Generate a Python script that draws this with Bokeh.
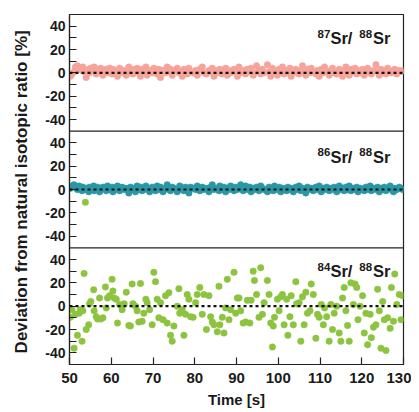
from bokeh.plotting import figure
from bokeh.models import Range1d, FixedTicker, Span, Label, ColumnDataSource
from bokeh.transform import dodge
from bokeh.embed import file_html
from bokeh.resources import INLINE

# measurement times [s]
time = [
    50.2, 50.6, 51.1, 51.4, 51.9, 52.3, 52.6, 53.0, 53.2, 53.5,
    54.0, 54.6, 54.8, 55.1, 55.8, 55.9, 56.4, 56.7, 57.2, 57.5,
    58.0, 58.6, 58.8, 59.1, 59.6, 60.2, 60.4, 60.7, 61.2, 61.5,
    62.0, 62.6, 63.1, 63.6, 64.2, 64.6, 65.0, 65.2, 65.8, 66.2,
    66.6, 67.0, 67.4, 67.8, 68.3, 68.6, 69.2, 69.8, 70.2, 70.6,
    71.0, 71.4, 71.8, 72.4, 73.0, 73.4, 73.8, 74.2, 74.6, 75.0,
    75.8, 76.2, 76.4, 77.0, 77.4, 77.8, 78.2, 78.6, 79.0, 79.6,
    80.2, 80.6, 81.2, 81.8, 82.2, 82.8, 83.4, 83.8, 84.2, 84.6,
    85.4, 85.8, 86.0, 86.6, 87.0, 87.4, 87.8, 88.2, 88.6, 89.4,
    89.8, 90.2, 90.6, 91.0, 91.6, 92.2, 92.6, 93.2, 93.5, 94.0,
    94.3, 94.8, 95.4, 95.8, 96.2, 96.6, 97.4, 97.8, 98.2, 98.6,
    98.8, 99.1, 99.8, 100.2, 100.6, 101.0, 101.4, 102.0, 102.3, 102.8,
    103.1, 103.6, 104.2, 104.4, 105.0, 105.4, 105.8, 106.2, 106.6, 107.0,
    107.6, 107.9, 108.4, 109.0, 109.4, 109.8, 110.3, 110.8, 111.1, 111.6,
    112.2, 112.6, 113.0, 113.4, 114.0, 114.6, 115.0, 115.4, 115.8, 116.2,
    116.6, 117.0, 117.4, 118.0, 118.4, 118.8, 119.1, 119.6, 120.2, 120.6,
    121.0, 121.4, 122.0, 122.3, 122.8, 123.4, 123.8, 124.2, 124.6, 125.0,
    125.4, 125.8, 126.2, 126.8, 127.1, 127.6, 127.9, 128.4, 129.0, 129.4,
    129.8,
]

# 87Sr/88Sr deviation [%]
sr87 = [
    -3, -1, 1, 5, 6, 3, 4, 2, 5, 1,
    -4, 3, 0, 4, 2, 5, -1, 3, 1, 4,
    -2, 2, 3, 0, 4, -1, 3, 1, 2, -3,
    4, 0, 2, -2, 5, 1, 3, -1, 2, 4,
    0, -3, 3, 1, 5, -2, 2, 0, 4, 1,
    -1, 3, -4, 2, 0, 5, 1, 3, -2, 2,
    4, 0, 1, -3, 3, 2, -1, 4, 1, 0,
    2, -2, 3, 5, 0, -1, 2, 1, 4, -3,
    2, 0, 3, -1, 1, 4, -2, 2, 0, 3,
    1, -3, 5, 0, 2, -1, 3, 1, 4, -2,
    0, 6, 2, -1, 3, 0, 7, 1, -3, 4,
    2, 0, -2, 3, 1, 5, -1, 2, 0, 4,
    -3, 1, 3, 0, -1, 2, 6, 1, -2, 3,
    0, 4, 1, -1, 2, -3, 3, 0, 5, 1,
    -2, 2, 4, 0, -1, 3, 1, -3, 2, 5,
    0, -2, 3, 1, 4, -1, 2, 0, 3, -2,
    1, 4, 0, -1, 2, 7, 1, -2, 3, 0,
    2, -1, 4, 1, 0, 2, 3, -1, 2, 1,
    2,
]

# 86Sr/88Sr deviation [%]
sr86 = [
    1, 3, 4, 2, 0, 3, 1, -1, 2, 0,
    1, -2, 2, 0, 3, -1, 1, 2, -2, 0,
    2, 1, -1, 3, 0, 2, -2, 1, 0, 3,
    -1, 2, 0, 1, -3, 2, 0, 1, -2, 3,
    0, 2, -1, 1, 3, 0, -2, 2, 1, -1,
    3, 0, 2, -2, 1, 4, 0, -1, 2, 1,
    -2, 0, 3, 1, -1, 2, 0, -3, 2, 1,
    0, 3, -1, 2, 0, 1, -2, 2, 4, 0,
    1, -1, 3, 0, 2, -2, 1, 0, 3, -1,
    2, 0, 1, 4, -1, 3, 0, 2, -2, 1,
    0, 2, -1, 3, 1, 0, -2, 2, 0, 1,
    -1, 3, 0, 2, -2, 1, 0, -1, 2, 0,
    1, -2, 2, 0, 3, -1, 1, 0, -3, 2,
    0, 1, -1, 2, 0, 3, -2, 1, 0, 2,
    -1, 1, 0, 2, -2, 3, 0, 1, -1, 2,
    0, 3, -1, 1, 0, 2, -2, 1, 0, -1,
    2, 0, 3, -1, 1, 0, 2, -2, 1, 0,
    2, -1, 1, 3, 0, -2, 1, 0, 2, 1,
    0,
]
# stray point in the 86Sr panel
stray_t = [53.8]
stray_y = [-11]

# 84Sr/88Sr deviation [%]
sr84 = [
    -9.6, -3, -36, -7, -25, -6, -3, -30, -4, 28,
    -20, -16, 2, 4, 14, -4, -9, -11, 7, -11,
    -10, 16.5, -1.5, 7, 9, 23, 13, 7, 6, -14.5,
    1.5, -3, 2, 12, -16.5, -17, 19, 2, 0, -4,
    -13.6, 19.4, -13, -6, 6, 3, -3, -16, 29, 21,
    6, -10, 3, -11.6, 9, -14.5, 11.6, -25, -30, -17,
    0, 15, -6, -3, -25, -7, 10, 6, -9, -9.6,
    3, 10, 16, -7, 10, -20, 9, -9, -13.6, -16,
    -22, 17, -16, -9.6, -23, -1.5, 23, -11.6, -3, 29,
    -6, 7, 7, -4, -14.5, -13.6, 5, -14.5, 5, 30,
    22, 10, -9.6, 33, -7, 3, 22, 10, -14.5, -35,
    -17, -9.6, 6, -4, 8, 10, -16, 6, -25, -9,
    9, -16, 21, 2, 3, -30, 8, -16, 12, -6,
    -4, 19, 10, -27.5, -7, -9.6, 1.5, -16, -1.5, -9,
    -30, 1.5, -20, -6, 0, -23, -30, 7, 16, -4,
    -16.5, -30, 20, 1.5, 19, 16, -11.6, 0, 9, -23,
    -6, -33, -7, -27, -18, -16, 14.5, -4, -36, 4,
    -11.6, -38, -10, -19, 16, -13, 27.5, 1.5, 10, -11.6,
    9,
]

x_ticks = [50, 60, 70, 80, 90, 100, 110, 120, 130]
y_ticks = [-40, -30, -20, -10, 0, 10, 20, 30, 40]
y_labels = ["-40", "", "-20", "", "0", "", "20", "", "40"]

panel_iso = ["87", "86", "84"]
panel_offset = [200, 100, 0]
panel_title_y = [29.5, 28.0, 30.0]
panel_color = ["#F6A39A", "#2A97A6", "#8DC43F"]
panel_data = [sr87, sr86, sr84]

FONT = "Liberation Sans"
TXT = "#1a1a1a"

p = figure(width=411, height=410, x_range=Range1d(50, 130), y_range=Range1d(-50, 250),
           output_backend="svg", toolbar_location=None,
           min_border_left=69, min_border_right=8, min_border_top=14, min_border_bottom=44)
p.xgrid.visible = False
p.ygrid.visible = False
p.background_fill_color = "white"
p.outline_line_color = "#222222"
p.outline_line_width = 1.2

for iso, off, ty, col, vals in zip(panel_iso, panel_offset, panel_title_y, panel_color, panel_data):
    src = ColumnDataSource(dict(t=time, y=vals))
    p.scatter(x="t", y=dodge("y", off), source=src, size=6.5, fill_color=col,
              line_color=col, line_width=0.5)
    p.add_layout(Span(location=off, dimension="width", line_color="#111111",
                      line_width=2.2, line_dash="3 3"))
    # panel title pieces: sup iso, "Sr/", sup 88, "Sr"
    for tx, dy, txt, fs in ((109.4, 3.8, iso, "11.5px"), (112.5, 0, "Sr/", "16.5px"),
                            (119.4, 3.8, "88", "11.5px"), (122.7, 0, "Sr", "16.5px")):
        p.add_layout(Label(x=tx, y=off + ty + dy, text=txt, text_font=FONT,
                           text_font_size=fs, text_font_style="bold", text_color=TXT,
                           text_baseline="alphabetic", text_align="left"))

src_s = ColumnDataSource(dict(t=stray_t, y=stray_y))
p.scatter(x="t", y=dodge("y", 100), source=src_s, size=6.5, fill_color="#8DC43F",
          line_color="#8DC43F", line_width=0.5)

# panel separators
for loc in (50, 150):
    p.add_layout(Span(location=loc, dimension="width", line_color="#222222", line_width=1.2))

ticks = []
overrides = {}
for off in panel_offset:
    for v, lab in zip(y_ticks, y_labels):
        ticks.append(v + off)
        overrides[v + off] = lab

p.yaxis.ticker = FixedTicker(ticks=ticks)
p.yaxis.major_label_overrides = overrides
p.xaxis.ticker = FixedTicker(ticks=x_ticks)

for ax in (p.xaxis[0], p.yaxis[0]):
    ax.major_tick_in = 7
    ax.major_tick_out = 0
    ax.minor_tick_line_color = None
    ax.axis_line_color = "#222222"
    ax.axis_line_width = 1.2
    ax.major_tick_line_color = "#222222"
    ax.major_tick_line_width = 1.2
    ax.major_label_text_font = FONT
    ax.major_label_text_font_style = "bold"
    ax.major_label_text_color = TXT
    ax.axis_label_text_font = FONT
    ax.axis_label_text_font_style = "bold"
    ax.axis_label_text_color = TXT

p.yaxis.major_label_text_font_size = "14px"
p.yaxis.major_label_standoff = 4
p.yaxis.axis_label = "Deviation from natural isotopic ratio  [%]"
p.yaxis.axis_label_text_font_size = "17px"
p.yaxis.axis_label_standoff = 11

p.xaxis.major_label_text_font_size = "15px"
p.xaxis.major_label_standoff = 8
p.xaxis.axis_label = "Time [s]"
p.xaxis.axis_label_text_font_size = "15px"
p.xaxis.axis_label_standoff = 5

open("out.html", "w").write(file_html(p, INLINE))
